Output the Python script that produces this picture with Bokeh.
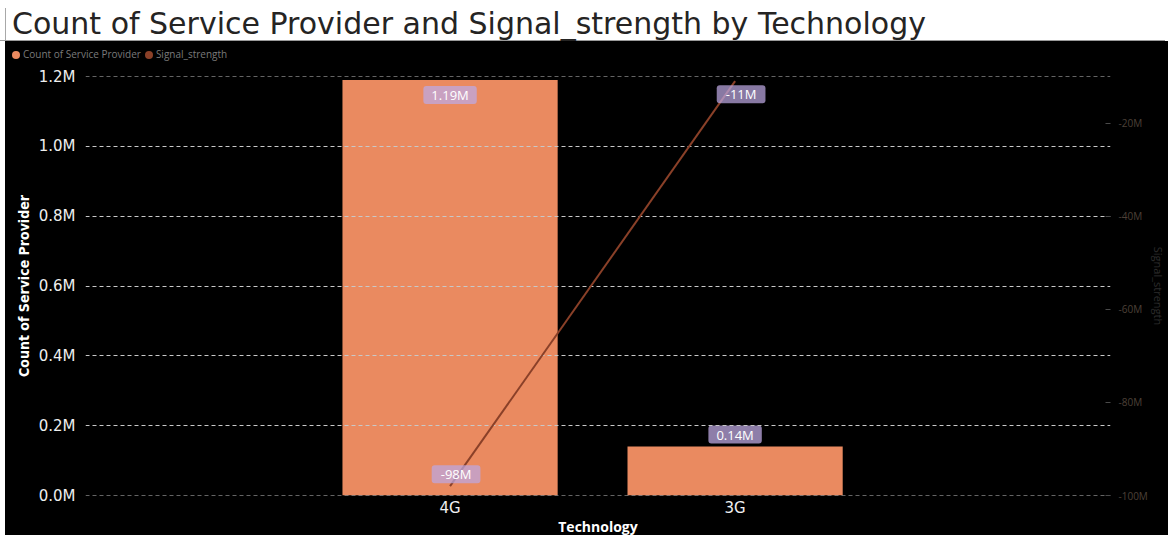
from bokeh.plotting import figure
from bokeh.models import (Range1d, LinearAxis, FixedTicker, ColumnDataSource, Div)
from bokeh.layouts import column
from bokeh.core.properties import value
from bokeh.embed import file_html
from bokeh.resources import INLINE

# ---------------- data ----------------
title_text = "Count of Service Provider and Signal_strength by Technology"
series_names = ["Count of Service Provider", "Signal_strength"]
x_title = "Technology"
y_title = "Count of Service Provider"
y2_title = "Signal_strength"
categories = ["4G", "3G"]
provider_count = [1190000, 140000]
signal_strength = [-98000000, -11000000]
bar_labels = ["1.19M", "0.14M"]
line_labels = ["-98M", "-11M"]
left_ticks = [0, 200000, 400000, 600000, 800000, 1000000, 1200000]
left_tick_labels = ["0.0M", "0.2M", "0.4M", "0.6M", "0.8M", "1.0M", "1.2M"]
right_ticks = [-100000000, -80000000, -60000000, -40000000, -20000000]
right_tick_labels = ["-100M", "-80M", "-60M", "-40M", "-20M"]

xs = [i + 0.5 for i in range(len(categories))]
bar_off = [15 if v > 600000 else -12 for v in provider_count]
line_off = [13 if v > -55000000 else -12 for v in signal_strength]
src = ColumnDataSource(dict(x=xs, cat=categories, count=provider_count,
                            sig=signal_strength, blab=bar_labels, llab=line_labels,
                            boff=bar_off, loff=line_off))
grid_src = ColumnDataSource(dict(y=left_ticks))

FONT = "Open Sans"
TICKFONT = "DejaVu Sans"
BAR = "#EA8A60"
LINE = "#8A4028"
LBL_BG = "#BDA8E2"

# ---------------- title strip ----------------
title = Div(
    text=('<div style="width:1165px;height:41px;box-sizing:border-box;'
          'border-bottom:1px solid #9a9a9a;padding-top:8px;">'
          '<div style="margin-left:5px;border-left:1px solid #a8a8a8;'
          'height:32px;padding-left:6px;font-family:\'DejaVu Sans\';font-size:30px;'
          'line-height:32px;color:#252423;white-space:nowrap;">'
          + title_text + '</div></div>'),
    width=1165, height=41, margin=0, styles={"background-color": "white"})

# ---------------- legend strip ----------------
legend_html = ('<div style="height:20px;padding-left:7px;padding-top:7px;box-sizing:border-box;'
               'font-family:\'Open Sans\';font-size:10px;line-height:13px;color:#7a7a7a;'
               'white-space:nowrap;">')
for name, col in zip(series_names, [BAR, LINE]):
    legend_html += ('<span style="display:inline-block;width:8px;height:8px;border-radius:4px;'
                    'background:%s;margin-right:3px;vertical-align:-0.5px;"></span>'
                    '<span style="margin-right:4px;">%s</span>' % (col, name))
legend_html += '</div>'
legend = Div(text=legend_html, width=1163, height=20, margin=(0, 0, 0, 5),
             styles={"background-color": "black"})

# ---------------- main chart ----------------
p = figure(width=1163, height=458,
           x_range=Range1d(-0.779, 2.817), y_range=Range1d(0, 1200000),
           output_backend="svg", toolbar_location=None,
           background_fill_color="black", border_fill_color="black",
           outline_line_color=None,
           min_border_left=80, min_border_right=58,
           min_border_top=15, min_border_bottom=23,
           margin=(0, 0, 0, 5), styles={"background-color": "black"})
p.extra_y_ranges = {"sig": Range1d(-100000000, -10000000)}

p.xgrid.visible = False
p.ygrid.visible = False

bars = p.vbar(x="x", top="count", width=0.755, source=src,
              fill_color=BAR, line_color=None)
# bar data labels
p.text(x="x", y="count", text="blab", y_offset="boff", source=src,
       text_align="center", text_baseline="middle", text_color="white",
       text_font=value(FONT), text_font_size="13px",
       background_fill_color=LBL_BG, background_fill_alpha=0.75,
       padding=dict(left=8, right=8, top=0, bottom=0), border_radius=3)
# dashed horizontal gridlines at the left-axis ticks
p.hspan(y="y", source=grid_src, line_color="#c8c8c8", line_width=1,
        line_dash="4 3")
ln = p.line(x="x", y="sig", source=src, y_range_name="sig",
            line_color=LINE, line_width=2)
# line data labels
p.text(x="x", y="sig", text="llab", y_offset="loff", x_offset=6, source=src,
       y_range_name="sig",
       text_align="center", text_baseline="middle", text_color="white",
       text_font=value(FONT), text_font_size="13px",
       background_fill_color=LBL_BG, background_fill_alpha=0.72,
       padding=dict(left=9, right=9, top=0, bottom=0), border_radius=3)

# x axis
xa = p.xaxis[0]
xa.ticker = FixedTicker(ticks=xs)
xa.major_label_overrides = {x: c for x, c in zip(xs, categories)}
xa.axis_line_color = None
xa.major_tick_line_color = None
xa.major_tick_out = 0
xa.major_tick_in = 0
xa.minor_tick_line_color = None
xa.minor_tick_out = 0
xa.major_label_text_color = "#f0f0f0"
xa.major_label_text_font = TICKFONT
xa.major_label_text_font_size = "15px"
xa.major_label_standoff = 3

# left axis
ya = p.yaxis[0]
ya.ticker = FixedTicker(ticks=left_ticks)
ya.major_label_overrides = {v: s for v, s in zip(left_ticks, left_tick_labels)}
ya.axis_label = y_title
ya.axis_line_color = None
ya.major_tick_line_color = None
ya.major_tick_out = 0
ya.major_tick_in = 0
ya.minor_tick_line_color = None
ya.minor_tick_out = 0
ya.major_label_text_color = "#eeeeee"
ya.major_label_text_font = TICKFONT
ya.major_label_text_font_size = "15px"
ya.major_label_standoff = 10
ya.axis_label_text_color = "white"
ya.axis_label_text_font = "'DejaVu Sans Condensed', Roboto, sans-serif"
ya.axis_label_text_font_style = "bold"
ya.axis_label_text_font_size = "14px"
ya.axis_label_standoff = 4

# right axis
ra = LinearAxis(y_range_name="sig", ticker=FixedTicker(ticks=right_ticks))
ra.major_label_overrides = {v: s for v, s in zip(right_ticks, right_tick_labels)}
ra.axis_label = y2_title
ra.axis_line_color = None
ra.major_tick_in = 5
ra.major_tick_out = 0
ra.major_tick_line_color = "#4a4a4a"
ra.minor_tick_line_color = None
ra.minor_tick_out = 0
ra.major_label_text_color = "#4d4038"
ra.major_label_text_font = FONT
ra.major_label_text_font_size = "10px"
ra.major_label_standoff = 8
ra.axis_label_text_color = "#2c2c2c"
ra.axis_label_text_font = FONT
ra.axis_label_text_font_style = "normal"
ra.axis_label_text_font_size = "11px"
ra.axis_label_standoff = 0
p.add_layout(ra, "right")

# ---------------- x-axis title strip ----------------
xt = Div(text=('<div style="width:1163px;height:16px;overflow:hidden;">'
               '<div style="position:relative;left:593px;width:160px;margin-left:-80px;'
               'text-align:center;font-family:\'Open Sans\';font-weight:bold;'
               'font-size:14px;line-height:16px;color:white;">' + x_title +
               '</div></div>'),
         width=1163, height=16, margin=(0, 0, 0, 5),
         styles={"background-color": "black"})

layout = column(title, legend, p, xt, spacing=0)
open("out.html", "w").write(file_html(layout, INLINE))
